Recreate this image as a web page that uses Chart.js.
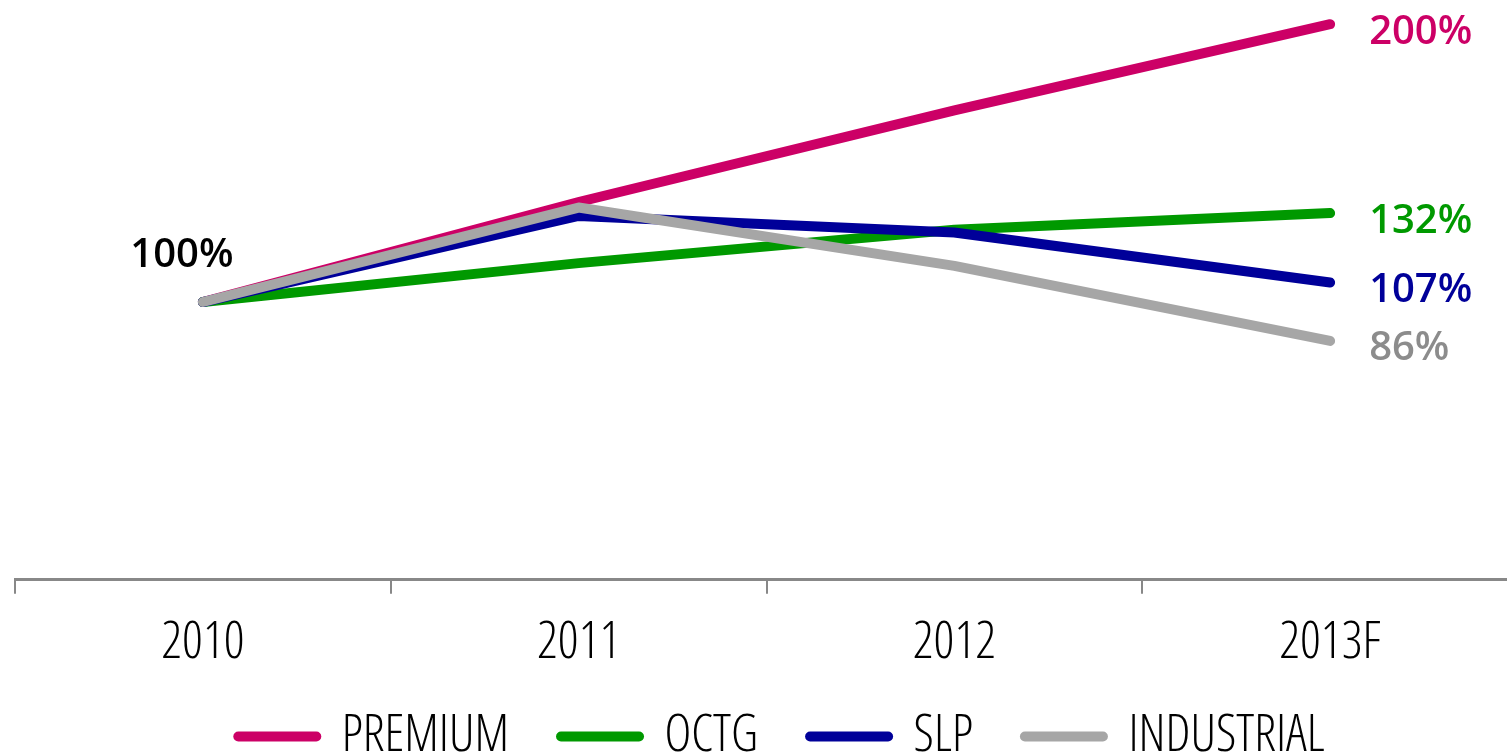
<!DOCTYPE html>
<html>
<head>
<meta charset="utf-8">
<script src="https://cdn.jsdelivr.net/npm/chart.js@4.4.0/dist/chart.umd.min.js"></script>
<style>
  html, body { margin: 0; padding: 0; background: #fff; overflow: hidden; }
  #wrap { width: 1521px; height: 752px; }
</style>
</head>
<body>
<div id="wrap"><canvas id="chart"></canvas></div>
<script>
// data (2010 = 100%)
const years = ['2010', '2011', '2012', '2013F'];
const premium = [100, 136, 169, 200];
const octg = [100, 114, 126, 132];
const slp = [100, 131, 125, 107];
const industrial = [100, 134, 113, 86];

const seriesNames = ['PREMIUM', 'OCTG', 'SLP', 'INDUSTRIAL'];
const seriesColors = ['#cc0066', '#009900', '#000099', '#a6a6a6'];
const labelColors = ['#cc0066', '#009900', '#000099', '#8c8c8c'];

// thin narrow face for axis + legend (weight string carries the stretch keyword)
const thinFont = { family: '"Open Sans", sans-serif', size: 51, weight: '300 condensed' };

// value labels at the start and end of the lines
const endLabels = {
  id: 'endLabels',
  afterDatasetsDraw(chart) {
    const ctx = chart.ctx;
    ctx.save();
    ctx.font = '600 40px "Open Sans", sans-serif';
    ctx.textBaseline = 'middle';
    chart.data.datasets.forEach(function(ds, i) {
      const meta = chart.getDatasetMeta(i);
      const last = meta.data[meta.data.length - 1];
      ctx.fillStyle = labelColors[i];
      ctx.textAlign = 'left';
      ctx.fillText(Math.round(ds.data[ds.data.length - 1]) + '%', last.x + 39, last.y + 8);
    });
    // the common starting point
    const first = chart.getDatasetMeta(0).data[0];
    ctx.fillStyle = '#000';
    ctx.textAlign = 'center';
    ctx.fillText(chart.data.datasets[0].data[0] + '%', first.x - 21, first.y - 46);
    ctx.restore();
  }
};

// legend padding is also used vertically, so shrink the box and nudge the items up
const legendFix = {
  id: 'legendFix',
  beforeInit(chart) {
    const fit = chart.legend.fit;
    chart.legend.fit = function() {
      fit.call(this);
      this.height = 59;
    };
  },
  afterLayout(chart) {
    chart.legend.top -= 34;
    chart.legend.left += 15;
    chart.legend.right += 15;
  }
};

const allValues = [premium, octg, slp, industrial];
const datasets = allValues.map(function(vals, i) {
  return {
    label: seriesNames[i],
    data: vals,
    borderColor: seriesColors[i],
    backgroundColor: seriesColors[i],
    borderWidth: 10,
    borderCapStyle: 'round',
    borderJoinStyle: 'round',
    pointRadius: 0,
    tension: 0,
    clip: false,
    order: 4 - i   // grey drawn last, on top
  };
});

new Chart(document.getElementById('chart'), {
  type: 'line',
  data: { labels: years, datasets: datasets },
  plugins: [endLabels, legendFix],
  options: {
    responsive: true,
    maintainAspectRatio: false,
    animation: false,
    layout: { padding: { left: 15, right: 3, top: 2, bottom: 0 } },
    scales: {
      x: {
        offset: true,
        grid: {
          offset: true,
          drawOnChartArea: false,
          drawTicks: true,
          tickLength: 14,
          color: '#888',
          lineWidth: 2
        },
        border: { display: true, color: '#888', width: 3 },
        ticks: {
          color: '#000',
          padding: 19,
          font: thinFont
        }
      },
      y: {
        display: false,
        min: 0,
        max: 208
      }
    },
    plugins: {
      tooltip: { enabled: false },
      legend: {
        position: 'bottom',
        labels: {
          color: '#000',
          font: thinFont,
          usePointStyle: true,
          pointStyleWidth: 78,
          padding: 52,
          generateLabels: function(chart) {
            return chart.data.datasets.map(function(ds, i) {
              return {
                text: ds.label,
                fillStyle: ds.borderColor,
                strokeStyle: ds.borderColor,
                lineWidth: 10,
                lineCap: 'round',
                pointStyle: 'line',
                fontColor: '#000',
                hidden: false,
                datasetIndex: i
              };
            });
          }
        }
      }
    }
  }
});
</script>
</body>
</html>
